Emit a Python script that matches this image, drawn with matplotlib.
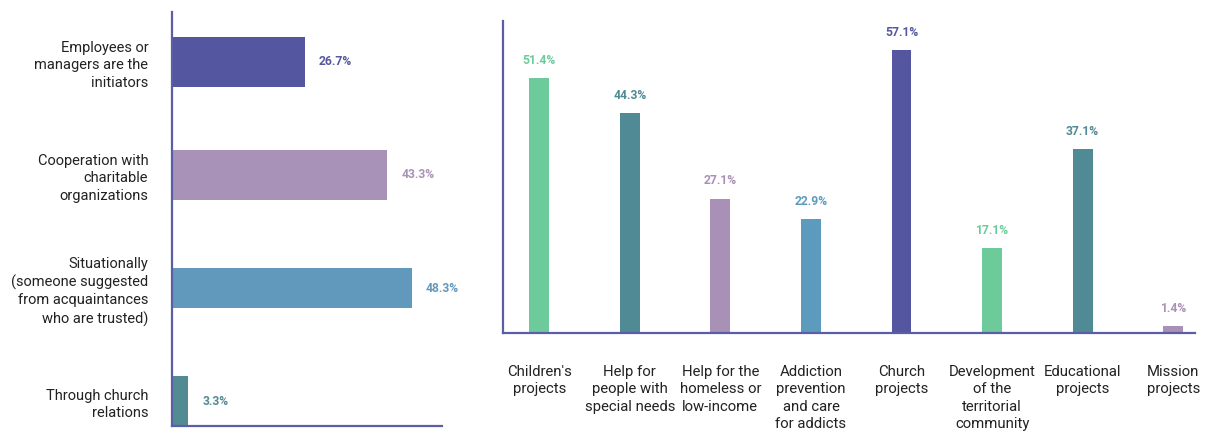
import matplotlib.pyplot as plt

plt.rcParams['font.family'] = ['Roboto', 'DejaVu Sans']

# left panel: how the cooperation started
ways = ["Employees or\nmanagers are the\ninitiators",
        "Cooperation with\ncharitable\norganizations",
        "Situationally\n(someone suggested\nfrom acquaintances\nwho are trusted)",
        "Through church\nrelations"]
ways_pct = [26.7, 43.3, 48.3, 3.3]
ways_colors = ["#5457a0", "#a992b8", "#6199bd", "#528b92"]

# right panel: project areas supported
areas = ["Children's\nprojects", "Help for\npeople with\nspecial needs",
         "Help for the\nhomeless or\nlow-income", "Addiction\nprevention\nand care\nfor addicts",
         "Church\nprojects", "Development\nof the\nterritorial\ncommunity",
         "Educational\nprojects", "Mission\nprojects"]
areas_pct = [51.4, 44.3, 27.1, 22.9, 57.1, 17.1, 37.1, 1.4]
areas_colors = ["#6dcb9b", "#4f8a95", "#a990b6", "#5d9bbe",
                "#5457a0", "#6dcb9b", "#4f8a95", "#a990b6"]

axis_col = "#5b5ea6"

fig = plt.figure(figsize=(12.17, 4.33), dpi=100)

# --- left: horizontal bars ---
ax1 = fig.add_axes([0.1413, 0.0162, 0.2219, 0.956])
ypos = list(range(len(ways)))
heights = [0.44, 0.44, 0.35, 0.44]
ax1.barh(ypos, ways_pct, height=heights, color=ways_colors)
for y, v, c in zip(ypos, ways_pct, ways_colors):
    ax1.annotate(f"{v}%", (v, y), xytext=(10, 0), textcoords="offset points",
                 ha="left", va="center", fontsize=8.7, fontweight="bold", color=c)
ax1.set_xlim(0, 54.3)
ax1.set_ylim(3.22, -0.44)
ax1.set_yticks(ypos)
ax1.set_yticklabels(ways, fontsize=10.5, color="#222222", linespacing=1.32)
ax1.tick_params(axis="y", length=0, pad=17)
ax1.set_xticks([])

# --- right: vertical bars ---
ax2 = fig.add_axes([0.4133, 0.2309, 0.5686, 0.7206])
xpos = list(range(len(areas)))
ax2.bar(xpos, areas_pct, width=0.22, color=areas_colors)
for x, v, c in zip(xpos, areas_pct, areas_colors):
    ax2.annotate(f"{v}%", (x, v), xytext=(0, 8), textcoords="offset points",
                 ha="center", va="bottom", fontsize=8.7, fontweight="bold", color=c)
ax2.set_xlim(-0.40, 7.24)
ax2.set_ylim(0, 62.9)
ax2.set_xticks(xpos)
ax2.set_xticklabels(areas, fontsize=10.7, color="#222222", linespacing=1.3)
ax2.tick_params(axis="x", length=0, pad=23)
ax2.set_yticks([])

for ax in (ax1, ax2):
    for s in ("top", "right"):
        ax.spines[s].set_visible(False)
    for s in ("left", "bottom"):
        ax.spines[s].set_color(axis_col)
        ax.spines[s].set_linewidth(1.6)

fig.savefig("out.png", dpi=100)
